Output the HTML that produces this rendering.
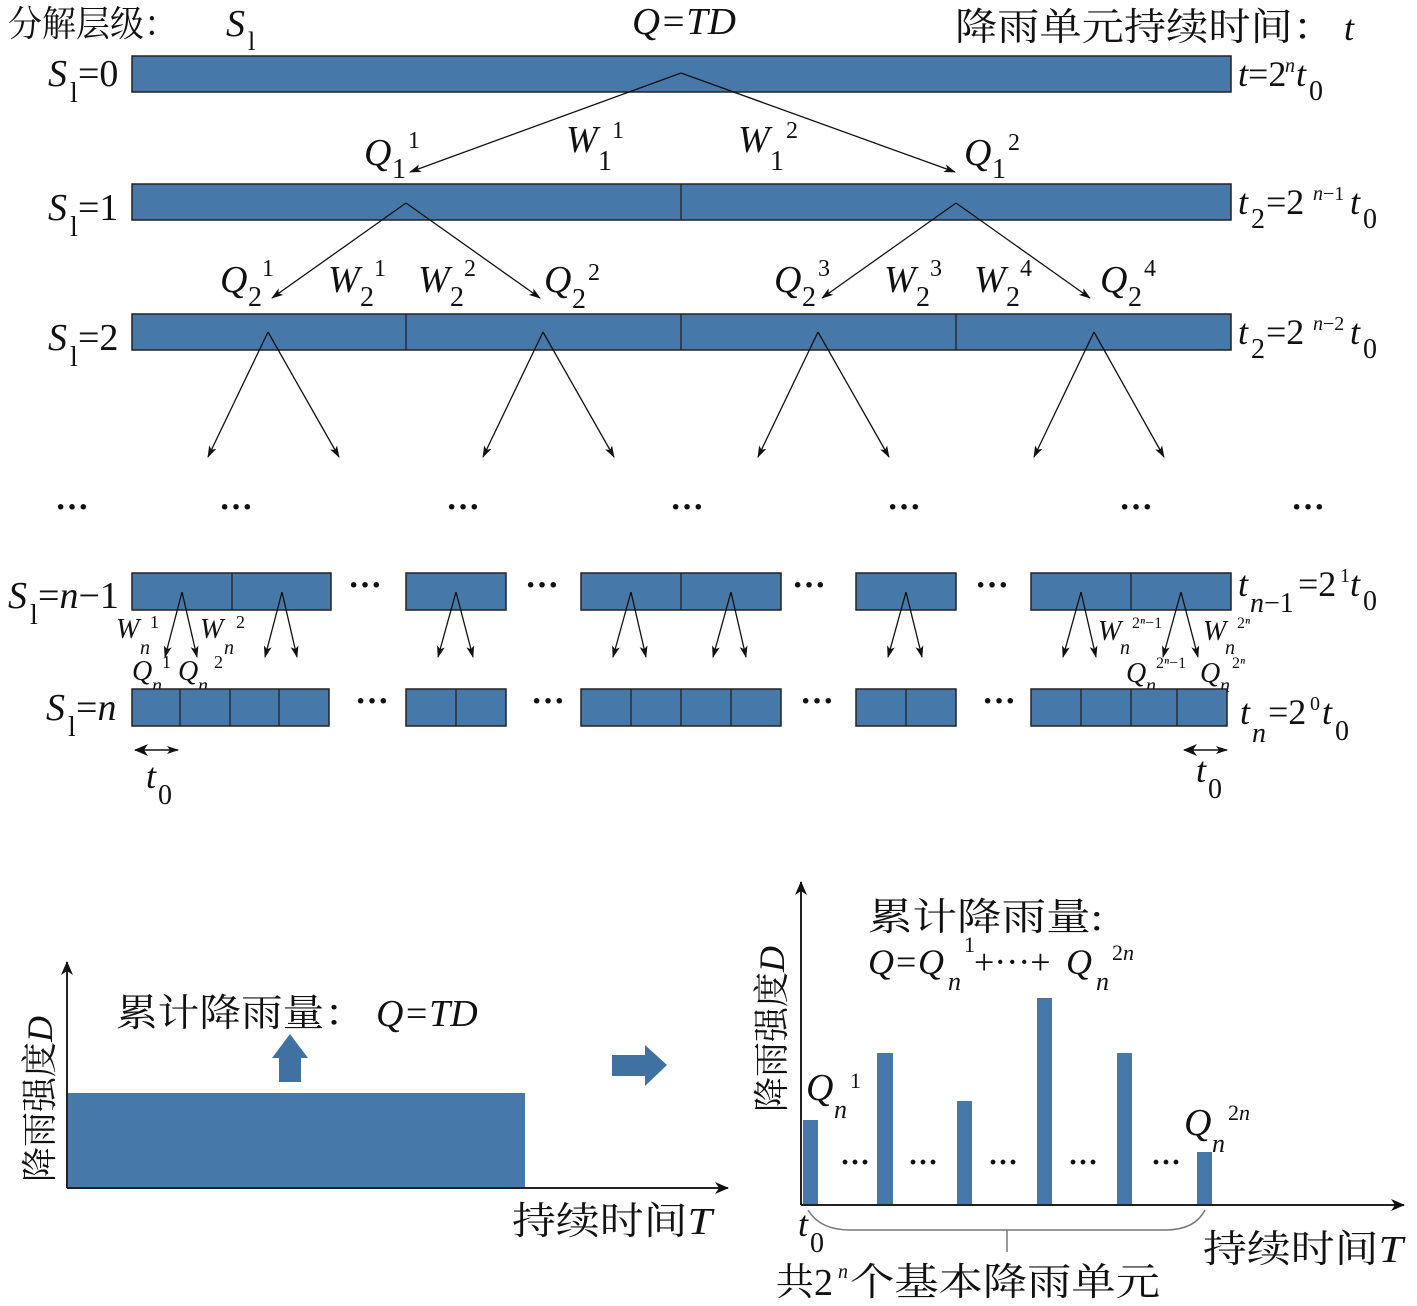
<!DOCTYPE html>
<html><head><meta charset="utf-8"><style>
html,body{margin:0;padding:0;background:#fff}
svg{display:block}
text{font-family:"Liberation Serif","Noto Serif CJK SC","Noto Sans CJK SC",serif;fill:#111}
.i{font-style:italic}
.b{fill:#4679aa;stroke:#222;stroke-width:1.5}
.a{stroke:#111;stroke-width:1.3;fill:none;marker-end:url(#ah)}
</style></head><body>
<svg width="1417" height="1306" viewBox="0 0 1417 1306" xmlns="http://www.w3.org/2000/svg">
<defs>
<marker id="ah" markerWidth="12" markerHeight="10" refX="11" refY="5" orient="auto" markerUnits="userSpaceOnUse"><path d="M0,1 L12,5 L0,9 L3,5 Z" fill="#111"/></marker>
<marker id="ah2" markerWidth="14" markerHeight="12" refX="13" refY="6" orient="auto" markerUnits="userSpaceOnUse"><path d="M0,0 L14,6 L0,12 L4,6 Z" fill="#111"/></marker>
<marker id="as" markerWidth="14" markerHeight="12" refX="1" refY="6" orient="auto" markerUnits="userSpaceOnUse"><path d="M14,0 L0,6 L14,12 L10,6 Z" fill="#111"/></marker>
</defs>

<!-- header -->
<text x="8" y="36" font-size="36" textLength="170" lengthAdjust="spacingAndGlyphs">分解层级：</text>
<text x="226" y="36" font-size="38" class="i">S</text><text x="248" y="50" font-size="26">l</text>
<text x="632" y="34" font-size="38" class="i" textLength="104" lengthAdjust="spacingAndGlyphs">Q=TD</text>
<text x="955" y="40" font-size="38" textLength="380" lengthAdjust="spacingAndGlyphs">降雨单元持续时间：</text>
<text x="1344" y="40" font-size="36" class="i">t</text>

<!-- row 0 -->
<rect class="b" x="132" y="56" width="1099" height="36"/>
<text x="48" y="86" font-size="38" class="i">S</text><text x="70" y="102" font-size="28">l</text><text x="78" y="86" font-size="38">=0</text>
<text x="1238" y="86" font-size="36"><tspan class="i">t</tspan>=2</text><text x="1285" y="72" font-size="20" class="i">n</text><text x="1296" y="86" font-size="36" class="i">t</text><text x="1309" y="100" font-size="28">0</text>
<line class="a" x1="681" y1="73" x2="410" y2="172"/>
<line class="a" x1="681" y1="73" x2="955" y2="172"/>
<text x="364" y="165" font-size="38" class="i">Q</text><text x="392" y="178" font-size="28">1</text><text x="408" y="148" font-size="24">1</text>
<text x="566" y="152" font-size="38" class="i">W</text><text x="598" y="170" font-size="28">1</text><text x="612" y="138" font-size="24">1</text>
<text x="738" y="152" font-size="38" class="i">W</text><text x="770" y="170" font-size="28">1</text><text x="786" y="138" font-size="24">2</text>
<text x="964" y="165" font-size="38" class="i">Q</text><text x="992" y="178" font-size="28">1</text><text x="1008" y="150" font-size="24">2</text>

<!-- row 1 -->
<rect class="b" x="132" y="184" width="1099" height="36"/>
<line x1="681" y1="184" x2="681" y2="220" stroke="#222" stroke-width="1.3"/>
<text x="48" y="220" font-size="38" class="i">S</text><text x="70" y="236" font-size="28">l</text><text x="78" y="220" font-size="38">=1</text>
<text x="1238" y="214" font-size="36" class="i">t</text><text x="1251" y="228" font-size="28">2</text><text x="1266" y="214" font-size="36">=2</text><text x="1313" y="200" font-size="20"><tspan class="i">n</tspan>−1</text><text x="1350" y="214" font-size="36" class="i">t</text><text x="1363" y="228" font-size="28">0</text>
<line class="a" x1="406" y1="203" x2="272" y2="298"/>
<line class="a" x1="406" y1="203" x2="540" y2="298"/>
<line class="a" x1="956" y1="203" x2="822" y2="298"/>
<line class="a" x1="956" y1="203" x2="1090" y2="298"/>
<g font-size="38">
<text x="220" y="292" class="i">Q</text><text x="248" y="306" font-size="28">2</text><text x="262" y="276" font-size="24">1</text>
<text x="328" y="292" class="i">W</text><text x="360" y="306" font-size="28">2</text><text x="374" y="276" font-size="24">1</text>
<text x="418" y="292" class="i">W</text><text x="450" y="306" font-size="28">2</text><text x="464" y="276" font-size="24">2</text>
<text x="544" y="292" class="i">Q</text><text x="572" y="308" font-size="28">2</text><text x="588" y="280" font-size="24">2</text>
<text x="774" y="292" class="i">Q</text><text x="802" y="306" font-size="28">2</text><text x="818" y="276" font-size="24">3</text>
<text x="884" y="292" class="i">W</text><text x="916" y="306" font-size="28">2</text><text x="930" y="276" font-size="24">3</text>
<text x="974" y="292" class="i">W</text><text x="1006" y="306" font-size="28">2</text><text x="1020" y="276" font-size="24">4</text>
<text x="1100" y="292" class="i">Q</text><text x="1128" y="306" font-size="28">2</text><text x="1144" y="276" font-size="24">4</text>
</g>

<!-- row 2 -->
<rect class="b" x="132" y="314" width="1099" height="36"/>
<g stroke="#222" stroke-width="1.3"><line x1="406" y1="314" x2="406" y2="350"/><line x1="681" y1="314" x2="681" y2="350"/><line x1="956" y1="314" x2="956" y2="350"/></g>
<text x="48" y="350" font-size="38" class="i">S</text><text x="70" y="366" font-size="28">l</text><text x="78" y="350" font-size="38">=2</text>
<text x="1238" y="344" font-size="36" class="i">t</text><text x="1251" y="358" font-size="28">2</text><text x="1266" y="344" font-size="36">=2</text><text x="1313" y="330" font-size="20"><tspan class="i">n</tspan>−2</text><text x="1350" y="344" font-size="36" class="i">t</text><text x="1363" y="358" font-size="28">0</text>
<line class="a" x1="268" y1="332" x2="208" y2="457"/><line class="a" x1="268" y1="332" x2="339" y2="457"/>
<line class="a" x1="543" y1="332" x2="483" y2="457"/><line class="a" x1="543" y1="332" x2="614" y2="457"/>
<line class="a" x1="818" y1="332" x2="758" y2="457"/><line class="a" x1="818" y1="332" x2="889" y2="457"/>
<line class="a" x1="1094" y1="332" x2="1034" y2="457"/><line class="a" x1="1094" y1="332" x2="1164" y2="457"/>

<!-- dots -->
<g font-size="34" font-weight="bold" text-anchor="middle">
<text x="72" y="518">···</text><text x="236" y="518">···</text><text x="463" y="518">···</text><text x="687" y="518">···</text><text x="904" y="518">···</text><text x="1136" y="518">···</text><text x="1308" y="518">···</text>
<text x="365" y="596">···</text><text x="542" y="596">···</text><text x="809" y="596">···</text><text x="992" y="596">···</text>
<text x="372" y="712">···</text><text x="548" y="712">···</text><text x="817" y="712">···</text><text x="999" y="712">···</text>
</g>

<!-- row n-1 -->
<g class="b"><rect x="132" y="573" width="199" height="37"/><rect x="406" y="573" width="100" height="37"/><rect x="581" y="573" width="200" height="37"/><rect x="856" y="573" width="100" height="37"/><rect x="1031" y="573" width="200" height="37"/></g>
<g stroke="#222" stroke-width="1.3"><line x1="232" y1="573" x2="232" y2="610"/><line x1="681" y1="573" x2="681" y2="610"/><line x1="1131" y1="573" x2="1131" y2="610"/></g>
<text x="8" y="608" font-size="38" class="i">S</text><text x="30" y="624" font-size="28">l</text><text x="38" y="608" font-size="38">=<tspan class="i">n</tspan>−1</text>
<text x="1238" y="596" font-size="36" class="i">t</text><text x="1250" y="612" font-size="28"><tspan class="i">n</tspan>−1</text><text x="1298" y="596" font-size="36">=2</text><text x="1340" y="582" font-size="20">1</text><text x="1350" y="596" font-size="36" class="i">t</text><text x="1363" y="610" font-size="28">0</text>
<g>
<line class="a" x1="182" y1="592" x2="165" y2="657"/><line class="a" x1="182" y1="592" x2="197" y2="657"/>
<line class="a" x1="282" y1="592" x2="265" y2="657"/><line class="a" x1="282" y1="592" x2="297" y2="657"/>
<line class="a" x1="456" y1="592" x2="438" y2="657"/><line class="a" x1="456" y1="592" x2="473" y2="657"/>
<line class="a" x1="631" y1="592" x2="613" y2="657"/><line class="a" x1="631" y1="592" x2="646" y2="657"/>
<line class="a" x1="731" y1="592" x2="713" y2="657"/><line class="a" x1="731" y1="592" x2="746" y2="657"/>
<line class="a" x1="906" y1="592" x2="888" y2="657"/><line class="a" x1="906" y1="592" x2="922" y2="657"/>
<line class="a" x1="1081" y1="592" x2="1063" y2="657"/><line class="a" x1="1081" y1="592" x2="1096" y2="657"/>
<line class="a" x1="1181" y1="592" x2="1163" y2="657"/><line class="a" x1="1181" y1="592" x2="1198" y2="657"/>
</g>
<g font-size="28">
<text x="116" y="638" class="i">W</text><text x="140" y="654" font-size="20" class="i">n</text><text x="150" y="628" font-size="18">1</text>
<text x="200" y="638" class="i">W</text><text x="224" y="654" font-size="20" class="i">n</text><text x="236" y="628" font-size="18">2</text>
<text x="132" y="680" class="i">Q</text><text x="152" y="692" font-size="20" class="i">n</text><text x="162" y="668" font-size="18">1</text>
<text x="178" y="680" class="i">Q</text><text x="198" y="692" font-size="20" class="i">n</text><text x="214" y="668" font-size="18">2</text>
<text x="1098" y="640" class="i">W</text><text x="1120" y="654" font-size="20" class="i">n</text><text x="1132" y="628" font-size="16">2<tspan class="i">ⁿ</tspan>−1</text>
<text x="1203" y="640" class="i">W</text><text x="1225" y="654" font-size="20" class="i">n</text><text x="1237" y="628" font-size="16">2<tspan class="i">ⁿ</tspan></text>
<text x="1126" y="682" class="i">Q</text><text x="1146" y="692" font-size="20" class="i">n</text><text x="1156" y="668" font-size="16">2<tspan class="i">ⁿ</tspan>−1</text>
<text x="1200" y="682" class="i">Q</text><text x="1220" y="692" font-size="20" class="i">n</text><text x="1232" y="668" font-size="16">2<tspan class="i">ⁿ</tspan></text>
</g>

<!-- row n -->
<g class="b"><rect x="132" y="689" width="197" height="37"/><rect x="406" y="689" width="100" height="37"/><rect x="581" y="689" width="200" height="37"/><rect x="856" y="689" width="100" height="37"/><rect x="1031" y="689" width="196" height="37"/></g>
<g stroke="#222" stroke-width="1.3">
<line x1="180" y1="689" x2="180" y2="726"/><line x1="230" y1="689" x2="230" y2="726"/><line x1="279" y1="689" x2="279" y2="726"/>
<line x1="456" y1="689" x2="456" y2="726"/>
<line x1="631" y1="689" x2="631" y2="726"/><line x1="681" y1="689" x2="681" y2="726"/><line x1="731" y1="689" x2="731" y2="726"/>
<line x1="906" y1="689" x2="906" y2="726"/>
<line x1="1081" y1="689" x2="1081" y2="726"/><line x1="1131" y1="689" x2="1131" y2="726"/><line x1="1177" y1="689" x2="1177" y2="726"/>
</g>
<text x="46" y="720" font-size="38" class="i">S</text><text x="68" y="736" font-size="28">l</text><text x="76" y="720" font-size="38">=<tspan class="i">n</tspan></text>
<text x="1240" y="724" font-size="36" class="i">t</text><text x="1252" y="742" font-size="28" class="i">n</text><text x="1268" y="724" font-size="36">=2</text><text x="1310" y="710" font-size="20">0</text><text x="1322" y="724" font-size="36" class="i">t</text><text x="1335" y="740" font-size="28">0</text>
<line x1="135" y1="750" x2="178" y2="750" stroke="#111" stroke-width="1.5" marker-end="url(#ah)" marker-start="url(#as)"/>
<line x1="1184" y1="750" x2="1227" y2="750" stroke="#111" stroke-width="1.5" marker-end="url(#ah)" marker-start="url(#as)"/>
<text x="146" y="788" font-size="36" class="i">t</text><text x="158" y="804" font-size="28">0</text>
<text x="1196" y="782" font-size="36" class="i">t</text><text x="1208" y="798" font-size="28">0</text>

<!-- bottom left chart -->
<rect x="67" y="1093" width="458" height="95" fill="#4679aa"/>
<line x1="67" y1="1188" x2="67" y2="962" stroke="#222" stroke-width="2" marker-end="url(#ah2)"/>
<line x1="67" y1="1188" x2="728" y2="1188" stroke="#222" stroke-width="2" marker-end="url(#ah2)"/>
<polygon points="279,1082 279,1058 272,1058 290,1034 308,1058 301,1058 301,1082" fill="#3f72a0"/>
<polygon points="612,1055 645,1055 645,1045 667,1065 645,1086 645,1076 612,1076" fill="#3f72a0"/>
<text x="116" y="1026" font-size="38" textLength="250" lengthAdjust="spacingAndGlyphs">累计降雨量：</text>
<text x="376" y="1026" font-size="38" class="i">Q=TD</text>
<text transform="translate(52,1182) rotate(-90)" font-size="36"><tspan textLength="140" lengthAdjust="spacingAndGlyphs">降雨强度</tspan><tspan class="i">D</tspan></text>
<text x="512" y="1234" font-size="38" textLength="200" lengthAdjust="spacingAndGlyphs">持续时间<tspan class="i">T</tspan></text>

<!-- bottom right chart -->
<g fill="#4679aa">
<rect x="803" y="1120" width="15" height="85"/>
<rect x="877" y="1053" width="16" height="152"/>
<rect x="957" y="1101" width="15" height="104"/>
<rect x="1037" y="998" width="15" height="207"/>
<rect x="1117" y="1053" width="15" height="152"/>
<rect x="1197" y="1152" width="15" height="53"/>
</g>
<line x1="801" y1="1205" x2="801" y2="882" stroke="#222" stroke-width="2" marker-end="url(#ah2)"/>
<line x1="801" y1="1205" x2="1404" y2="1205" stroke="#222" stroke-width="2" marker-end="url(#ah2)"/>
<g font-size="30" font-weight="bold" text-anchor="middle">
<text x="855" y="1172">···</text><text x="923" y="1172">···</text><text x="1003" y="1172">···</text><text x="1083" y="1172">···</text><text x="1166" y="1172">···</text>
</g>
<path d="M808,1210 Q820,1230 850,1230 L1165,1230 Q1195,1230 1205,1210" stroke="#777" stroke-width="1.5" fill="none"/>
<line x1="1007" y1="1230" x2="1007" y2="1252" stroke="#777" stroke-width="1.5"/>
<text x="868" y="930" font-size="38" textLength="235" lengthAdjust="spacingAndGlyphs">累计降雨量:</text>
<text x="868" y="974" font-size="36" class="i">Q</text><text x="896" y="974" font-size="36">=</text><text x="918" y="974" font-size="36" class="i">Q</text><text x="948" y="990" font-size="26" class="i">n</text><text x="964" y="952" font-size="22">1</text><text x="974" y="974" font-size="36">+···+</text><text x="1066" y="974" font-size="36" class="i">Q</text><text x="1096" y="990" font-size="26" class="i">n</text><text x="1112" y="960" font-size="22">2<tspan class="i">n</tspan></text>
<text x="806" y="1100" font-size="38" class="i">Q</text><text x="834" y="1118" font-size="26" class="i">n</text><text x="850" y="1088" font-size="22">1</text>
<text x="1184" y="1135" font-size="38" class="i">Q</text><text x="1212" y="1152" font-size="26" class="i">n</text><text x="1228" y="1120" font-size="22">2<tspan class="i">n</tspan></text>
<text transform="translate(784,1112) rotate(-90)" font-size="36"><tspan textLength="140" lengthAdjust="spacingAndGlyphs">降雨强度</tspan><tspan class="i">D</tspan></text>
<text x="798" y="1236" font-size="36" class="i">t</text><text x="810" y="1252" font-size="28">0</text>
<text x="1203" y="1262" font-size="38" textLength="200" lengthAdjust="spacingAndGlyphs">持续时间<tspan class="i">T</tspan></text>
<text x="776" y="1295" font-size="38">共2</text><text x="838" y="1278" font-size="20" class="i">n</text><text x="850" y="1295" font-size="38" textLength="310" lengthAdjust="spacingAndGlyphs">个基本降雨单元</text>
</svg>
</body></html>
